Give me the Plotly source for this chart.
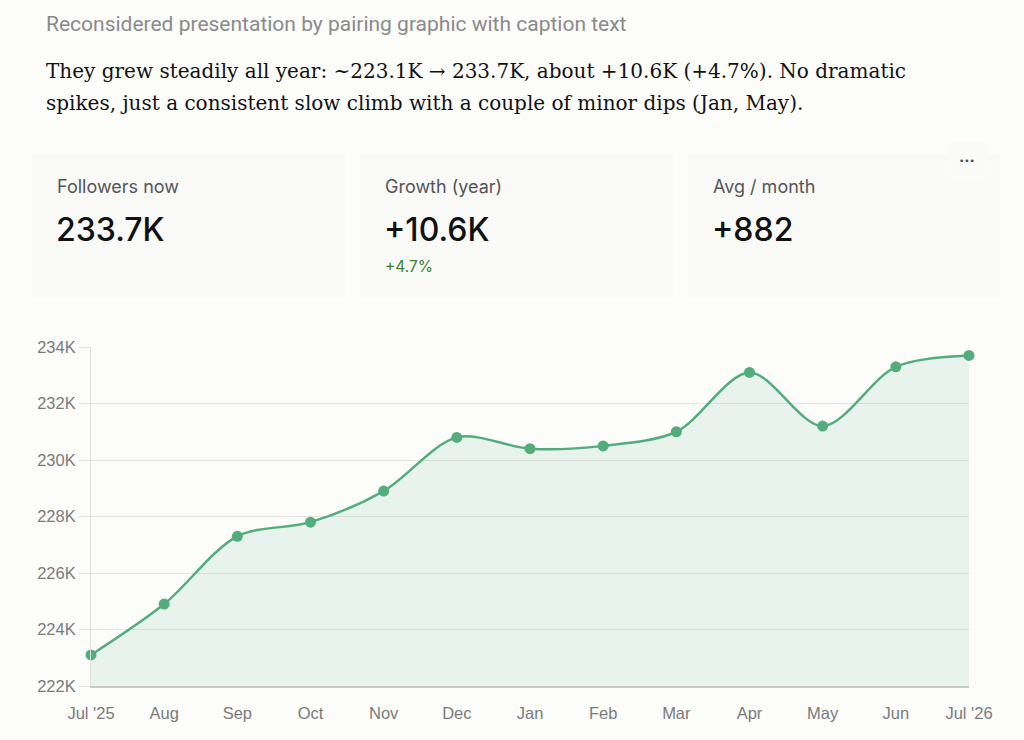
import plotly.graph_objects as go

months = ["Jul '25", "Aug", "Sep", "Oct", "Nov", "Dec", "Jan", "Feb", "Mar", "Apr", "May", "Jun", "Jul '26"]
followers_k = [223.1, 224.9, 227.3, 227.8, 228.9, 230.8, 230.4, 230.5, 231.0, 233.1, 231.2, 233.3, 233.7]
y_ticks = [222, 224, 226, 228, 230, 232, 234]
y_tick_labels = ["222K", "224K", "226K", "228K", "230K", "232K", "234K"]

subtitle = "Reconsidered presentation by pairing graphic with caption text"
caption_lines = [
    "They grew steadily all year: ~223.1K \u2192 233.7K, about +10.6K (+4.7%). No dramatic",
    "spikes, just a consistent slow climb with a couple of minor dips (Jan, May).",
]
kpi_labels = ["Followers now", "Growth (year)", "Avg / month"]
kpi_values = ["233.7K", "+10.6K", "+882"]
kpi_subs = ["", "+4.7%", ""]

W, H = 1024, 740
BG = "#fcfcfb"
CARD = "#f9f9f7"
GREEN = "#52ad7b"
FILL = "rgba(82,173,123,0.11)"

def px(x):
    return x / W

def py(y):
    return 1 - y / H

x_idx = list(range(len(months)))

fig = go.Figure()
fig.add_trace(go.Scatter(
    x=x_idx, y=followers_k, mode="lines+markers",
    line=dict(color=GREEN, width=2.5, shape="spline", smoothing=0.9),
    marker=dict(color=GREEN, size=11),
    fill="tozeroy", fillcolor=FILL,
    cliponaxis=False, hoverinfo="skip", showlegend=False,
))

shapes = []
annotations = []

# KPI cards
card_x = [(32, 345), (360, 673), (688, 1000)]
for i, (x0, x1) in enumerate(card_x):
    shapes.append(dict(type="rect", xref="paper", yref="paper",
                       x0=px(x0), x1=px(x1), y0=py(297), y1=py(154),
                       fillcolor=CARD, line=dict(width=0), layer="below"))
    tx = x0 + 23
    annotations.append(dict(text=kpi_labels[i], x=px(tx), y=py(187), xref="paper", yref="paper",
                            xanchor="left", yanchor="middle", showarrow=False,
                            font=dict(family="Inter", size=18, color="#555555")))
    annotations.append(dict(text=kpi_values[i], x=px(tx - 1), y=py(230), xref="paper", yref="paper",
                            xanchor="left", yanchor="middle", showarrow=False,
                            font=dict(family="Inter", size=32, color="#111111", weight=500)))
    if kpi_subs[i]:
        annotations.append(dict(text=kpi_subs[i], x=px(tx), y=py(266), xref="paper", yref="paper",
                                xanchor="left", yanchor="middle", showarrow=False,
                                font=dict(family="Inter", size=15.5, color="#3d7f2f")))

# "..." menu button
shapes.append(dict(type="rect", xref="paper", yref="paper",
                   x0=px(948), x1=px(988), y0=py(180), y1=py(142),
                   fillcolor="#fafaf9", line=dict(width=0), layer="below"))
annotations.append(dict(text="\u2022\u2022\u2022", x=px(967), y=py(161), xref="paper", yref="paper",
                        xanchor="center", yanchor="middle", showarrow=False,
                        font=dict(family="DejaVu Sans", size=9, color="#444444")))

# Header texts
annotations.append(dict(text=subtitle, x=px(44), y=py(24), xref="paper", yref="paper",
                        xanchor="left", yanchor="middle", showarrow=False,
                        font=dict(family="Roboto", size=21, color="#8a8a8a")))
for j, line in enumerate(caption_lines):
    annotations.append(dict(text=line, x=px(44), y=py(71 + 32 * j), xref="paper", yref="paper",
                            xanchor="left", yanchor="middle", showarrow=False,
                            font=dict(family="DejaVu Serif", size=20, color="#111111")))

fig.update_layout(
    width=W, height=H,
    margin=dict(l=0, r=0, t=0, b=0, autoexpand=False),
    paper_bgcolor=BG, plot_bgcolor=BG,
    shapes=shapes, annotations=annotations,
    xaxis=dict(domain=[px(91), px(969)], range=[0, len(months) - 1],
               tickvals=x_idx, ticktext=months, showgrid=False, zeroline=False,
               showline=True, linecolor="#c9c9c9", linewidth=1.5,
               ticks="", ticklabelstandoff=11, automargin=False,
               tickfont=dict(family="Liberation Sans", size=16.5, color="#7a7a7a"),
               fixedrange=True),
    yaxis=dict(domain=[py(686), py(347)], range=[222, 234],
               tickvals=y_ticks, ticktext=y_tick_labels,
               showgrid=True, gridcolor="#e4e4e2", gridwidth=1.2, zeroline=False,
               showline=True, linecolor="#e0e0de", linewidth=1,
               ticks="outside", ticklen=11, tickcolor="#e4e4e2", tickwidth=1.2,
               ticklabelstandoff=0, automargin=False,
               tickfont=dict(family="Liberation Sans", size=16.5, color="#7a7a7a"),
               fixedrange=True),
)

fig.write_html("out.html")
